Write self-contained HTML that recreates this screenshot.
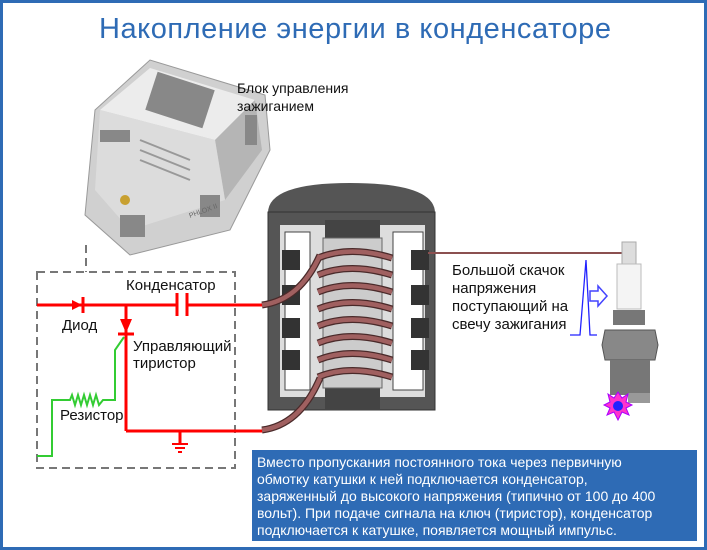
<!DOCTYPE html>
<html><head><meta charset="utf-8"><style>
html,body{margin:0;padding:0;background:#fff}
svg{display:block;font-family:"Liberation Sans","DejaVu Sans",sans-serif}
</style></head><body>
<svg width="707" height="550" viewBox="0 0 707 550">
<rect x="1.5" y="1.5" width="704" height="547" fill="#fff" stroke="#2e6bb5" stroke-width="3"/>
<text x="355" y="38" text-anchor="middle" font-size="29" fill="#2e6bb5" textLength="512">Накопление энергии в конденсаторе</text>

<g>
<polygon points="95,110 150,60 265,95 270,150 230,230 130,255 85,215" fill="#d0d0d0" stroke="#999"/>
<polygon points="100,110 150,68 255,100 215,140" fill="#ececec"/>
<polygon points="215,140 255,100 262,150 225,200" fill="#b5b5b5"/>
<polygon points="100,110 215,140 225,200 130,230 95,190" fill="#dcdcdc"/>
<g fill="#888"><rect x="150" y="80" width="60" height="40" transform="rotate(18 180 100)"/>
<rect x="100" y="130" width="30" height="12"/><rect x="120" y="215" width="25" height="22"/><rect x="200" y="195" width="20" height="22"/><rect x="245" y="115" width="12" height="30"/></g>
<g stroke="#999" stroke-width="2"><line x1="140" y1="140" x2="190" y2="160"/><line x1="140" y1="150" x2="190" y2="170"/><line x1="140" y1="160" x2="190" y2="180"/></g>
<circle cx="125" cy="200" r="5" fill="#c8a030"/>
<text x="190" y="218" font-size="7" fill="#666" transform="rotate(-20 190 218)">PHLOX II</text>
</g>
<text x="237" y="93" font-size="14" fill="#111">Блок управления</text>
<text x="237" y="111" font-size="14" fill="#111">зажиганием</text>

<g fill="none" stroke="#777" stroke-width="2" stroke-dasharray="8,5">
<rect x="37" y="272" width="198" height="196"/>
<line x1="86" y1="245" x2="86" y2="272"/>
</g>

<g stroke="#f00" stroke-width="3" fill="none">
<line x1="37" y1="305" x2="177" y2="305"/>
<line x1="187" y1="305" x2="265" y2="305"/>
<line x1="177" y1="293" x2="177" y2="316"/>
<line x1="187" y1="293" x2="187" y2="316"/>
<line x1="83" y1="297" x2="83" y2="313"/>
<line x1="126" y1="305" x2="126" y2="431"/>
<line x1="126" y1="431" x2="265" y2="431"/>
<line x1="118" y1="334" x2="134" y2="334"/>
<line x1="180" y1="431" x2="180" y2="443"/>
<line x1="172" y1="444" x2="188" y2="444" stroke-width="2"/>
<line x1="175" y1="448" x2="185" y2="448" stroke-width="2"/>
<line x1="178" y1="452" x2="182" y2="452" stroke-width="2"/>
</g>
<polygon points="72,300 82,305 72,310" fill="#f00"/>
<polygon points="120,319 132,319 126,333" fill="#f00"/>
<polyline points="37,456 52,456 52,400 70,400 72,395 75,405 78,395 81,405 84,395 87,405 90,395 93,405 96,395 99,405 103,400 115,400 115,350 124,337" fill="none" stroke="#3c3" stroke-width="2"/>
<text x="126" y="290" font-size="15" fill="#111">Конденсатор</text>
<text x="62" y="330" font-size="15" fill="#111">Диод</text>
<text x="133" y="351" font-size="15" fill="#111">Управляющий</text>
<text x="133" y="368" font-size="15" fill="#111">тиристор</text>
<text x="60" y="420" font-size="15" fill="#111">Резистор</text>

<g>
<path d="M268,213 Q268,183 350,183 Q435,183 435,213 Z" fill="#555"/>
<rect x="268" y="212" width="167" height="198" fill="#555" stroke="#333"/>
<rect x="280" y="225" width="145" height="172" fill="#ddd"/>
<rect x="285" y="232" width="25" height="158" fill="#fff" stroke="#444"/>
<rect x="393" y="232" width="30" height="158" fill="#fff" stroke="#444"/>
<g fill="#333">
<rect x="282" y="250" width="18" height="20"/><rect x="282" y="285" width="18" height="20"/><rect x="282" y="318" width="18" height="20"/><rect x="282" y="350" width="18" height="20"/>
<rect x="411" y="250" width="18" height="20"/><rect x="411" y="285" width="18" height="20"/><rect x="411" y="318" width="18" height="20"/><rect x="411" y="350" width="18" height="20"/>
</g>
<rect x="325" y="220" width="55" height="190" fill="#444"/>
<rect x="323" y="238" width="59" height="150" fill="#ccc" stroke="#666"/>
<g fill="none" stroke="#4a2a2a" stroke-width="7">
<path d="M318,258 Q350,245 392,258 M318,275 Q350,262 392,275 M318,292 Q350,279 392,292 M318,309 Q350,296 392,309 M318,326 Q350,313 392,326 M318,343 Q350,330 392,343 M318,360 Q350,347 392,360 M318,377 Q350,364 392,377"/>
<path d="M262,305 Q300,300 320,255 M262,430 Q300,425 320,378"/>
</g>
<g fill="none" stroke="#a06060" stroke-width="4.5">
<path d="M318,258 Q350,245 392,258 M318,275 Q350,262 392,275 M318,292 Q350,279 392,292 M318,309 Q350,296 392,309 M318,326 Q350,313 392,326 M318,343 Q350,330 392,343 M318,360 Q350,347 392,360 M318,377 Q350,364 392,377"/>
<path d="M262,305 Q300,300 320,255 M262,430 Q300,425 320,378"/>
</g>
</g>
<line x1="428" y1="253" x2="625" y2="253" stroke="#8b5050" stroke-width="2"/>
<text x="452" y="275" font-size="15" fill="#111">Большой скачок</text>
<text x="452" y="293" font-size="15" fill="#111">напряжения</text>
<text x="452" y="311" font-size="15" fill="#111">поступающий на</text>
<text x="452" y="329" font-size="15" fill="#111">свечу зажигания</text>
<polyline points="570,335 580,335 586,260 590,335 597,335" fill="none" stroke="#22f" stroke-width="1.3"/>
<polygon points="590,291 598,291 598,286 607,296 598,306 598,301 590,301" fill="#fff" stroke="#44f" stroke-width="1.5"/>

<g>
<rect x="622" y="242" width="14" height="22" fill="#ddd" stroke="#aaa"/>
<rect x="617" y="264" width="24" height="45" fill="#f4f4f4" stroke="#bbb"/>
<rect x="613" y="310" width="32" height="15" fill="#777"/>
<polygon points="605,330 655,330 658,345 655,360 605,360 602,345" fill="#888" stroke="#555"/>
<rect x="610" y="360" width="40" height="35" fill="#777"/>
<rect x="628" y="393" width="22" height="10" fill="#999"/>
<polygon points="618,392 622,398 628,394 626,402 632,405 626,408 629,415 622,412 618,420 614,412 607,415 610,408 604,405 610,402 608,394 614,398" fill="#f3c" stroke="#a0f"/>
<circle cx="618" cy="406" r="5" fill="#22f"/>
</g>

<g>
<rect x="252" y="450" width="445" height="91" fill="#2e6bb5"/>
<g font-size="14" fill="#fff">
<text x="257" y="467">Вместо пропускания постоянного тока через первичную</text>
<text x="257" y="484">обмотку катушки к ней подключается конденсатор,</text>
<text x="257" y="501">заряженный до высокого напряжения (типично от 100 до 400</text>
<text x="257" y="518">вольт). При подаче сигнала на ключ (тиристор), конденсатор</text>
<text x="257" y="535">подключается к катушке, появляется мощный импульс.</text>
</g>
</g>
</svg>
</body></html>
